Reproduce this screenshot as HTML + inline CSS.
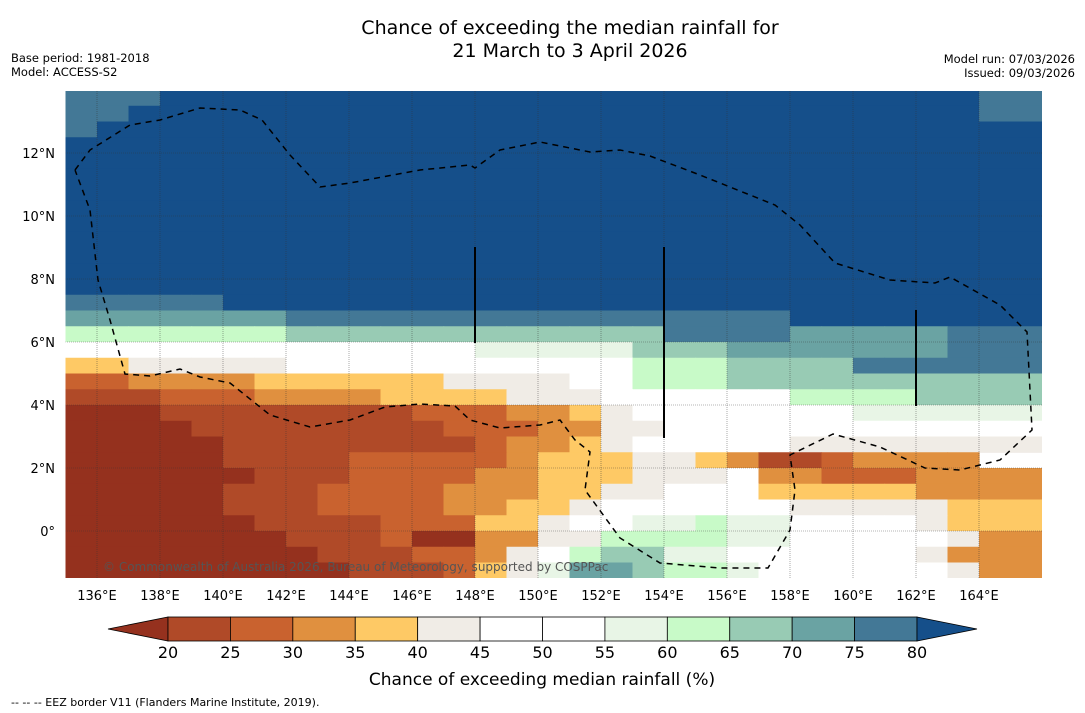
<!DOCTYPE html>
<html><head><meta charset="utf-8"><style>
body{margin:0;background:#fff;width:1085px;height:713px;overflow:hidden;font-family:"DejaVu Sans","Liberation Sans",sans-serif}
svg{display:block}
</style></head><body>
<svg id="chart" width="1085" height="713" viewBox="0 0 1085 713" xmlns="http://www.w3.org/2000/svg" font-family="DejaVu Sans, Liberation Sans, sans-serif">
<text x="570" y="34" font-size="19" text-anchor="middle">Chance of exceeding the median rainfall for</text>
<text x="570" y="57" font-size="19" text-anchor="middle">21 March to 3 April 2026</text>
<text x="11" y="62" font-size="11.5">Base period: 1981-2018</text>
<text x="11" y="76" font-size="11.5">Model: ACCESS-S2</text>
<text x="1075" y="63" font-size="11.5" text-anchor="end">Model run: 07/03/2026</text>
<text x="1075" y="77" font-size="11.5" text-anchor="end">Issued: 09/03/2026</text>
<defs><clipPath id="mapclip"><rect x="65.5" y="91" width="976.5" height="487"/></clipPath></defs>
<g id="map" clip-path="url(#mapclip)"></g>
<g id="axes"></g>
<g id="cbar"></g>
<text x="542" y="685" font-size="17" text-anchor="middle">Chance of exceeding median rainfall (%)</text>
<text x="11" y="706" font-size="11">--  --  -- EEZ border V11 (Flanders Marine Institute, 2019).</text>
</svg>
<script>
const lonStart = 135, lonStep = 1, latTop = 14, latStep = 0.5;
const colorLevels = [20,25,30,35,40,45,50,55,60,65,70,75,80];
const levelColors = ["#95311e","#b04a28","#c9622f","#e0903f","#fec965","#f0ece6","#ffffff","#ffffff","#e8f5e6","#c8fac8","#98cbb4","#6aa3a3","#437896","#154f8a"];
const colorbarTicks = [20,25,30,35,40,45,50,55,60,65,70,75,80];
const lonTicks = [136,138,140,142,144,146,148,150,152,154,156,158,160,162,164];
const latTicks = [0,2,4,6,8,10,12];
function row(spec){const r=[];spec.forEach(([n,v])=>{for(let i=0;i<n;i++)r.push(v);});return r;}
const grid = [
 row([[3,78],[26,85],[2,78]]),
 row([[2,78],[27,85],[2,78]]),
 row([[1,78],[30,85]]),
 row([[31,85]]),row([[31,85]]),row([[31,85]]),row([[31,85]]),row([[31,85]]),
 row([[31,85]]),row([[31,85]]),row([[31,85]]),row([[31,85]]),row([[31,85]]),
 row([[5,78],[26,85]]),
 row([[7,70],[6,78],[10,78],[8,85]]),
 row([[7,62],[6,65],[6,68],[4,78],[5,72],[3,78]]),
 row([[7,48],[6,50],[5,57],[3,65],[7,72],[3,78]]),
 row([[2,38],[5,42],[6,48],[5,50],[3,62],[4,68],[6,75]]),
 row([[2,28],[4,32],[6,38],[4,42],[2,50],[3,62],[10,68]]),
 row([[3,22],[3,28],[4,32],[4,38],[3,42],[6,50],[4,62],[4,65]]),
 row([[3,17],[8,22],[3,28],[2,32],[1,38],[1,42],[7,50],[6,57]]),
 row([[4,17],[8,22],[3,28],[2,32],[2,42],[12,50]]),
 row([[5,17],[8,22],[1,28],[2,32],[1,38],[1,42],[5,50],[8,42]]),
 row([[5,17],[4,22],[5,28],[1,32],[3,38],[2,42],[1,38],[1,32],[2,22],[1,28],[4,32]]),
 row([[6,17],[3,22],[4,28],[2,32],[3,38],[3,42],[1,50],[2,32],[3,28],[4,32]]),
 row([[5,17],[3,22],[4,28],[3,32],[2,38],[2,42],[3,50],[1,38],[4,38],[4,32]]),
 row([[5,17],[3,22],[4,28],[2,32],[2,38],[1,42],[6,50],[5,42],[3,38]]),
 row([[6,17],[4,22],[3,28],[2,38],[1,42],[2,50],[2,57],[1,62],[2,57],[4,50],[1,42],[3,38]]),
 row([[7,17],[3,22],[1,28],[2,17],[2,32],[2,42],[4,62],[2,57],[5,50],[1,42],[2,32]]),
 row([[8,17],[3,22],[2,28],[1,32],[1,42],[1,50],[1,62],[2,65],[2,57],[6,50],[1,42],[3,32]]),
 row([[9,17],[3,22],[1,28],[1,38],[1,42],[1,57],[2,70],[1,68],[2,62],[1,57],[6,50],[1,42],[2,32]])
];
const xScale = lon => 97 + (lon-136)*31.5;
const yScale = lat => 531 - lat*31.5;
function colorFor(v){let i=0;while(i<colorLevels.length&&v>=colorLevels[i])i++;return levelColors[i];}
const NS="http://www.w3.org/2000/svg";
function mk(tag,attrs,parent){const e=document.createElementNS(NS,tag);for(const k in attrs)e.setAttribute(k,attrs[k]);parent.appendChild(e);return e;}
const map=document.getElementById('map');
grid.forEach((r,i)=>r.forEach((v,j)=>{
  const x0=xScale(lonStart+j*lonStep), x1=xScale(lonStart+(j+1)*lonStep);
  const y0=yScale(latTop-i*latStep), y1=yScale(latTop-(i+1)*latStep);
  const c=mk('rect',{x:x0,y:y0,width:x1-x0+0.6,height:y1-y0+0.6,fill:colorFor(v)},map);
  
  
}));
lonTicks.forEach(l=>{const g=mk('line',{x1:xScale(l),x2:xScale(l),y1:91,y2:578,stroke:"#333",'stroke-width':0.6,'stroke-dasharray':'1,1','opacity':0.7},map);

});
latTicks.forEach(l=>{const g=mk('line',{x1:65,x2:1042,y1:yScale(l),y2:yScale(l),stroke:"#333",'stroke-width':0.6,'stroke-dasharray':'1,1','opacity':0.7},map);

});
const eez=[[75,170],[90,150],[130,125],[160,120],[200,108],[240,110],[262,120],[290,155],[320,187],[350,183],[420,170],[470,165],[475,168],[500,150],[540,142],[590,152],[620,150],[650,156],[700,175],[775,205],[800,225],[835,263],[890,280],[935,283],[950,277],[1000,305],[1027,332],[1032,430],[1000,460],[960,470],[925,468],[880,447],[833,434],[790,455],[795,490],[790,530],[768,568],[720,568],[660,563],[620,538],[585,490],[590,452],[575,440],[560,420],[540,425],[500,428],[470,420],[455,406],[420,404],[385,407],[350,420],[310,427],[270,415],[245,395],[230,383],[200,377],[180,369],[150,376],[125,374],[110,320],[98,280],[90,210],[75,170]];
const eezEl=mk('polyline',{points:eez.map(p=>p.join(',')).join(' '),fill:'none',stroke:'#000','stroke-width':1.5,'stroke-dasharray':'6,5'},map);


[[475,247,343],[664,247,438],[916,310,406]].forEach(v=>{const l=mk('line',{x1:v[0],x2:v[0],y1:v[1],y2:v[2],stroke:'#000','stroke-width':2},map);

});
const cr=mk('text',{x:103,y:571,'font-size':12,fill:'#555'},map);cr.textContent='© Commonwealth of Australia 2026, Bureau of Meteorology, supported by COSPPac';


const axes=document.getElementById('axes');
lonTicks.forEach(l=>{const t=mk('text',{x:xScale(l),y:600,'font-size':13,'text-anchor':'middle'},axes);t.textContent=l+'°E';

});
latTicks.forEach(l=>{const t=mk('text',{x:55,y:yScale(l)+5,'font-size':13,'text-anchor':'end'},axes);t.textContent=l===0?'0°':l+'°N';

});
const cb=document.getElementById('cbar');
const cbx=v=>168+(v-20)*(917-168)/60;
const tl=mk('polygon',{points:`108,629 168,617 168,641`,fill:levelColors[0],stroke:'#000','stroke-width':0.8},cb);


for(let i=0;i<colorLevels.length-1;i++){const r=mk('rect',{x:cbx(colorLevels[i]),y:617,width:cbx(colorLevels[i+1])-cbx(colorLevels[i]),height:24,fill:levelColors[i+1],stroke:'#000','stroke-width':0.8},cb);

}
const tr=mk('polygon',{points:`917,617 977,629 917,641`,fill:levelColors[13],stroke:'#000','stroke-width':0.8},cb);


colorbarTicks.forEach(v=>{const t=mk('text',{x:cbx(v),y:658,'font-size':16,'text-anchor':'middle'},cb);t.textContent=v;

});
</script>
</body></html>
